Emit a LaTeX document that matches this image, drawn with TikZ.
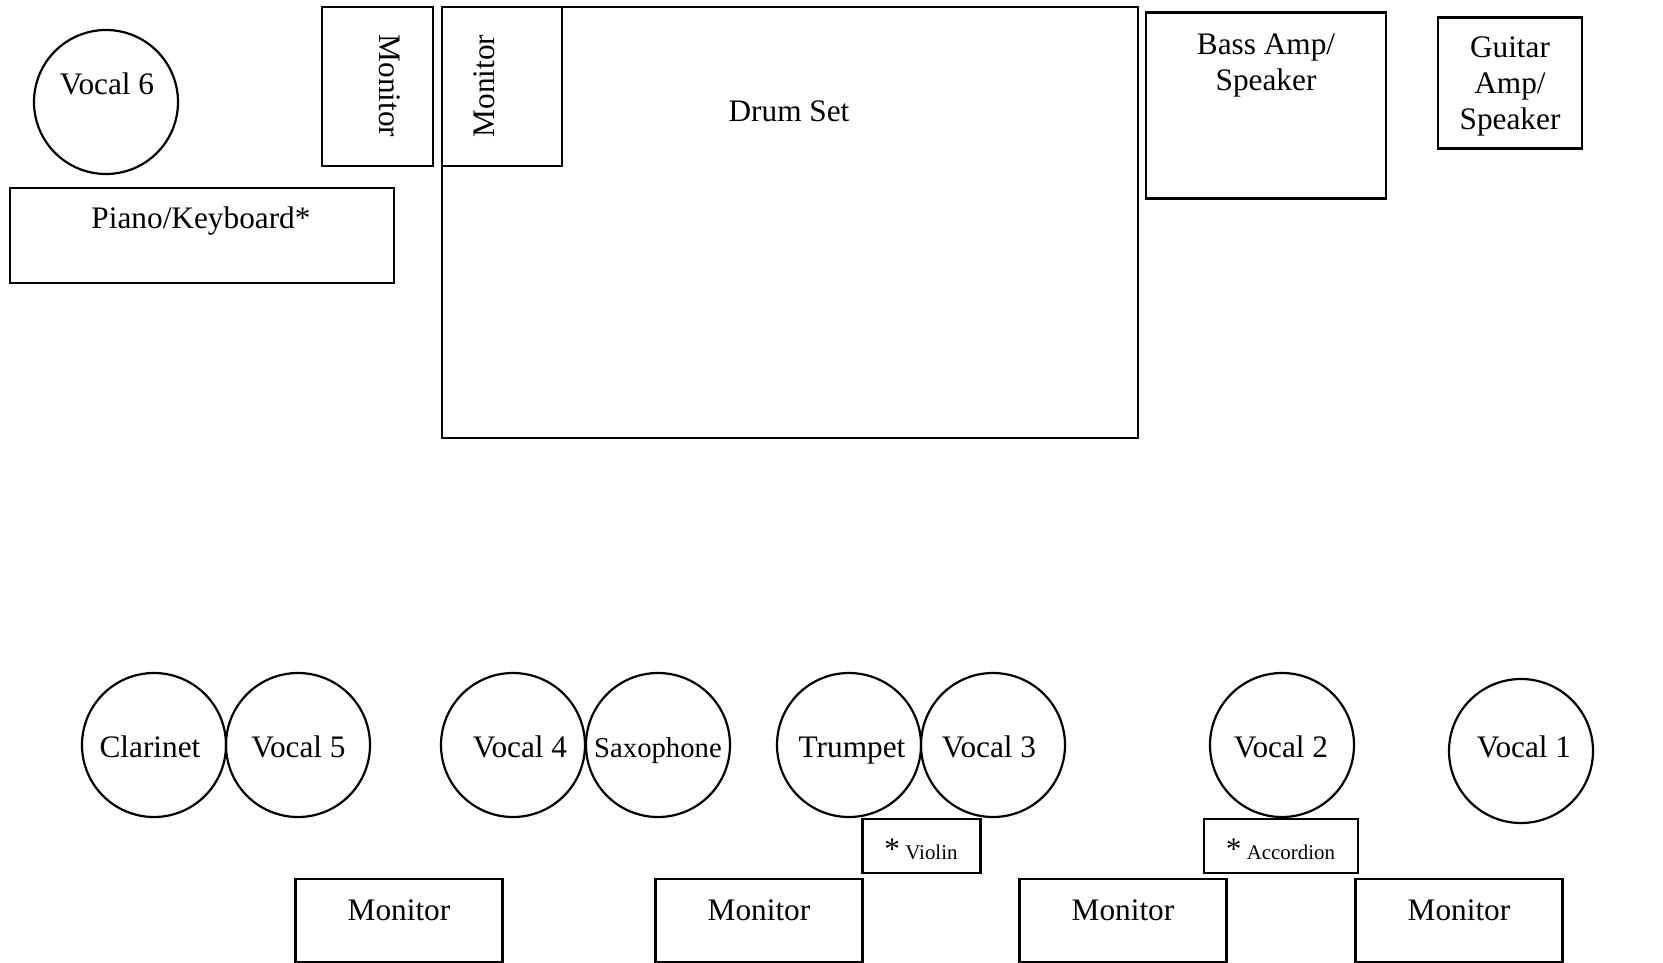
\documentclass[tikz,border=0pt]{standalone}
\usepackage{fontspec}
\setmainfont{Liberation Serif}
\newcommand\fbig{\fontsize{31.3}{36}\selectfont}
\newcommand\fmid{\fontsize{28.7}{33}\selectfont}
\newcommand\fsml{\fontsize{20.9}{24}\selectfont}
\begin{document}
\begin{tikzpicture}[x=1pt,y=-1pt,
  box/.style={draw, line width=2.2pt, rectangle, inner sep=0pt},
  circ/.style={draw, line width=2.2pt, circle, minimum size=144pt, inner sep=0pt},
  lbl/.style={anchor=base, inner sep=0pt, font=\fbig, align=center}]
\useasboundingbox (0,0) rectangle (1663,963);
% top area
\node[circ] (v6) at (106,102) {};
\node[lbl] (tv6) at (107,95) {Vocal 6};
\node[box, minimum width=384.5pt, minimum height=95pt] (piano) at (202,235.5) {};
\node[lbl] (tpiano) at (201,228) {Piano/Keyboard*};
\node[box, minimum width=111pt, minimum height=159pt] (monL) at (377.5,86.5) {};
\node[lbl, rotate=-90] (tmonL) at (379,86) {Monitor};
\node[box, minimum width=696pt, minimum height=431pt] (drum) at (790,222.5) {};
\node[box, minimum width=120pt, minimum height=159pt] (monD) at (502,86.5) {};
\node[lbl, rotate=90] (tmonD) at (494,86) {Monitor};
\node[lbl] (tdrum) at (789,122) {Drum Set};
\node[box, minimum width=240pt, minimum height=186pt] (bass) at (1266,105.5) {};
\node[lbl] (tbass1) at (1266,55) {Bass Amp/};
\node[lbl] (tbass2) at (1266,91) {Speaker};
\node[box, minimum width=144pt, minimum height=131pt] (guitar) at (1510,83) {};
\node[lbl] (tgtr1) at (1510,58) {Guitar};
\node[lbl] (tgtr2) at (1510,94) {Amp/};
\node[lbl] (tgtr3) at (1510,130) {Speaker};
% front row circles
\node[circ] (clar) at (154,745) {};
\node[circ] (v5) at (298,745) {};
\node[circ] (v4) at (513,745) {};
\node[circ] (sax) at (658,745) {};
\node[circ] (trump) at (849,745) {};
\node[circ] (v3) at (993,745) {};
\node[circ] (v2) at (1282,745) {};
\node[circ] (v1) at (1521,751) {};
\node[lbl] (tclar) at (150,757) {Clarinet};
\node[lbl] (tv5) at (298.5,757) {Vocal 5};
\node[lbl] (tv4) at (520,757) {Vocal 4};
\node[lbl, font=\fmid] (tsax) at (658,757) {Saxophone};
\node[lbl] (ttrump) at (852,757) {Trumpet};
\node[lbl] (tv3) at (989,757) {Vocal 3};
\node[lbl] (tv2) at (1281,757) {Vocal 2};
\node[lbl] (tv1) at (1524,757) {Vocal 1};
% small boxes
\node[box, minimum width=118pt, minimum height=54pt] (violin) at (921.5,846) {};
\node[lbl] (tviolin) at (921,859) {*\,{\fsml Violin}};
\node[box, minimum width=154pt, minimum height=54pt] (accord) at (1281,846) {};
\node[lbl] (taccord) at (1280.5,859) {*\,{\fsml Accordion}};
% bottom monitors
\node[box, minimum width=207pt, minimum height=83pt] (mb1) at (399,920.5) {};
\node[box, minimum width=207pt, minimum height=83pt] (mb2) at (759,920.5) {};
\node[box, minimum width=207pt, minimum height=83pt] (mb3) at (1123,920.5) {};
\node[box, minimum width=207pt, minimum height=83pt] (mb4) at (1459,920.5) {};
\node[lbl] (tmb1) at (399,920) {Monitor};
\node[lbl] (tmb2) at (759,920) {Monitor};
\node[lbl] (tmb3) at (1123,920) {Monitor};
\node[lbl] (tmb4) at (1459,920) {Monitor};
\end{tikzpicture}
\end{document}
